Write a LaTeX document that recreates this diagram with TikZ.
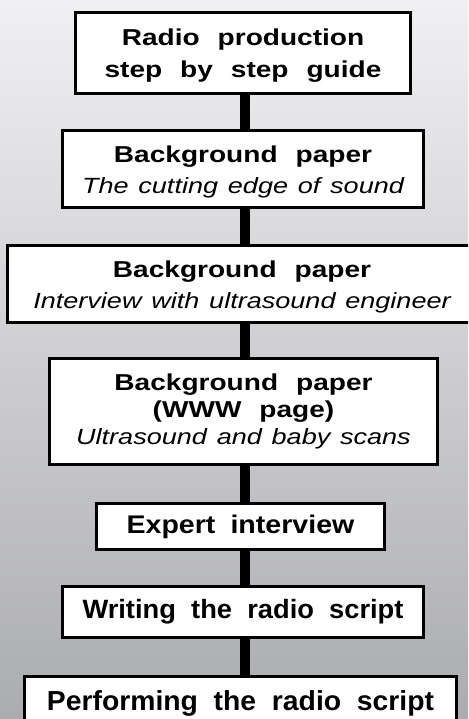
\documentclass[tikz,border=0pt]{standalone}
\usepackage{fontspec}
\setmainfont{Liberation Sans}
% wide sans lettering: glyphs stretched horizontally, generous word gaps
\newfontfamily\headfont[FakeStretch=1.22,WordSpace=2.3]{Liberation Sans}
\newfontfamily\notefont[FakeStretch=1.23,WordSpace=1.3]{Liberation Sans}
\newfontfamily\midfont[FakeStretch=1.12,WordSpace=1.9]{Liberation Sans}
\newfontfamily\tallfont[FakeStretch=1.03,WordSpace=2.0]{Liberation Sans}
\newcommand\note[1]{{\notefont\mdseries\itshape\fontsize{22}{30}\selectfont #1}}
% invisible strut that lowers a multi-line block inside its box
\newcommand\topstrut[1]{\rule{0pt}{#1}}

\tikzset{
  stepbox/.style={draw=black, line width=3pt, fill=white, inner sep=0pt,
    align=center, font=\headfont\bfseries\fontsize{23}{32}\selectfont},
  link/.style={draw=black, line width=10pt},
}

\begin{document}
\begin{tikzpicture}[x=1pt, y=-1pt]
  \useasboundingbox (0,0) rectangle (468,719);
  \clip (0,0) rectangle (468,719);
  % grey backdrop, light at the top and darker towards the bottom
  \shade[top color={rgb,255:red,240;green,240;blue,242},
         bottom color={rgb,255:red,171;green,172;blue,176}]
    (0,0) rectangle (468,719);

  % vertical spine that carries the connectors
  \coordinate (spine) at (245,0);

  \node[stepbox, minimum width=335pt, minimum height=81pt] (b1) at (243,53)
    {\topstrut{22.8pt}Radio production\\step by step guide};
  \node[stepbox, minimum width=361pt, minimum height=77pt] (b2) at (243,169)
    {\topstrut{21.8pt}Background paper\\[-1pt]\note{The cutting edge of sound}};
  \node[stepbox, minimum width=469pt, minimum height=77pt] (b3) at (242,284)
    {\topstrut{21.8pt}Background paper\\[-1pt]\note{Interview with ultrasound engineer}};
  \node[stepbox, minimum width=388pt, minimum height=106pt] (b4) at (243.5,411.5)
    {Background paper\\[-5pt](WWW page)\\[-5pt]\note{Ultrasound and baby scans}};
  \node[stepbox, minimum width=288pt, minimum height=46pt,
        font=\midfont\bfseries\fontsize{25.5}{30}\selectfont] (b5) at (240.5,526.5)
    {Expert interview};
  \node[stepbox, minimum width=361pt, minimum height=51pt,
        font=\tallfont\bfseries\fontsize{26.5}{30}\selectfont] (b6) at (243,612)
    {Writing the radio script};
  \node[stepbox, minimum width=432pt, minimum height=54pt,
        font=\tallfont\bfseries\fontsize{27.5}{30}\selectfont] (b7) at (240.5,703.5)
    {Performing the radio script};

  \draw[link] (b1.south -| spine) -- (b2.north -| spine);
  \draw[link] (b2.south -| spine) -- (b3.north -| spine);
  \draw[link] (b3.south -| spine) -- (b4.north -| spine);
  \draw[link] (b4.south -| spine) -- (b5.north -| spine);
  \draw[link] (b5.south -| spine) -- (b6.north -| spine);
  \draw[link] (b6.south -| spine) -- (b7.north -| spine);
\end{tikzpicture}
\end{document}
